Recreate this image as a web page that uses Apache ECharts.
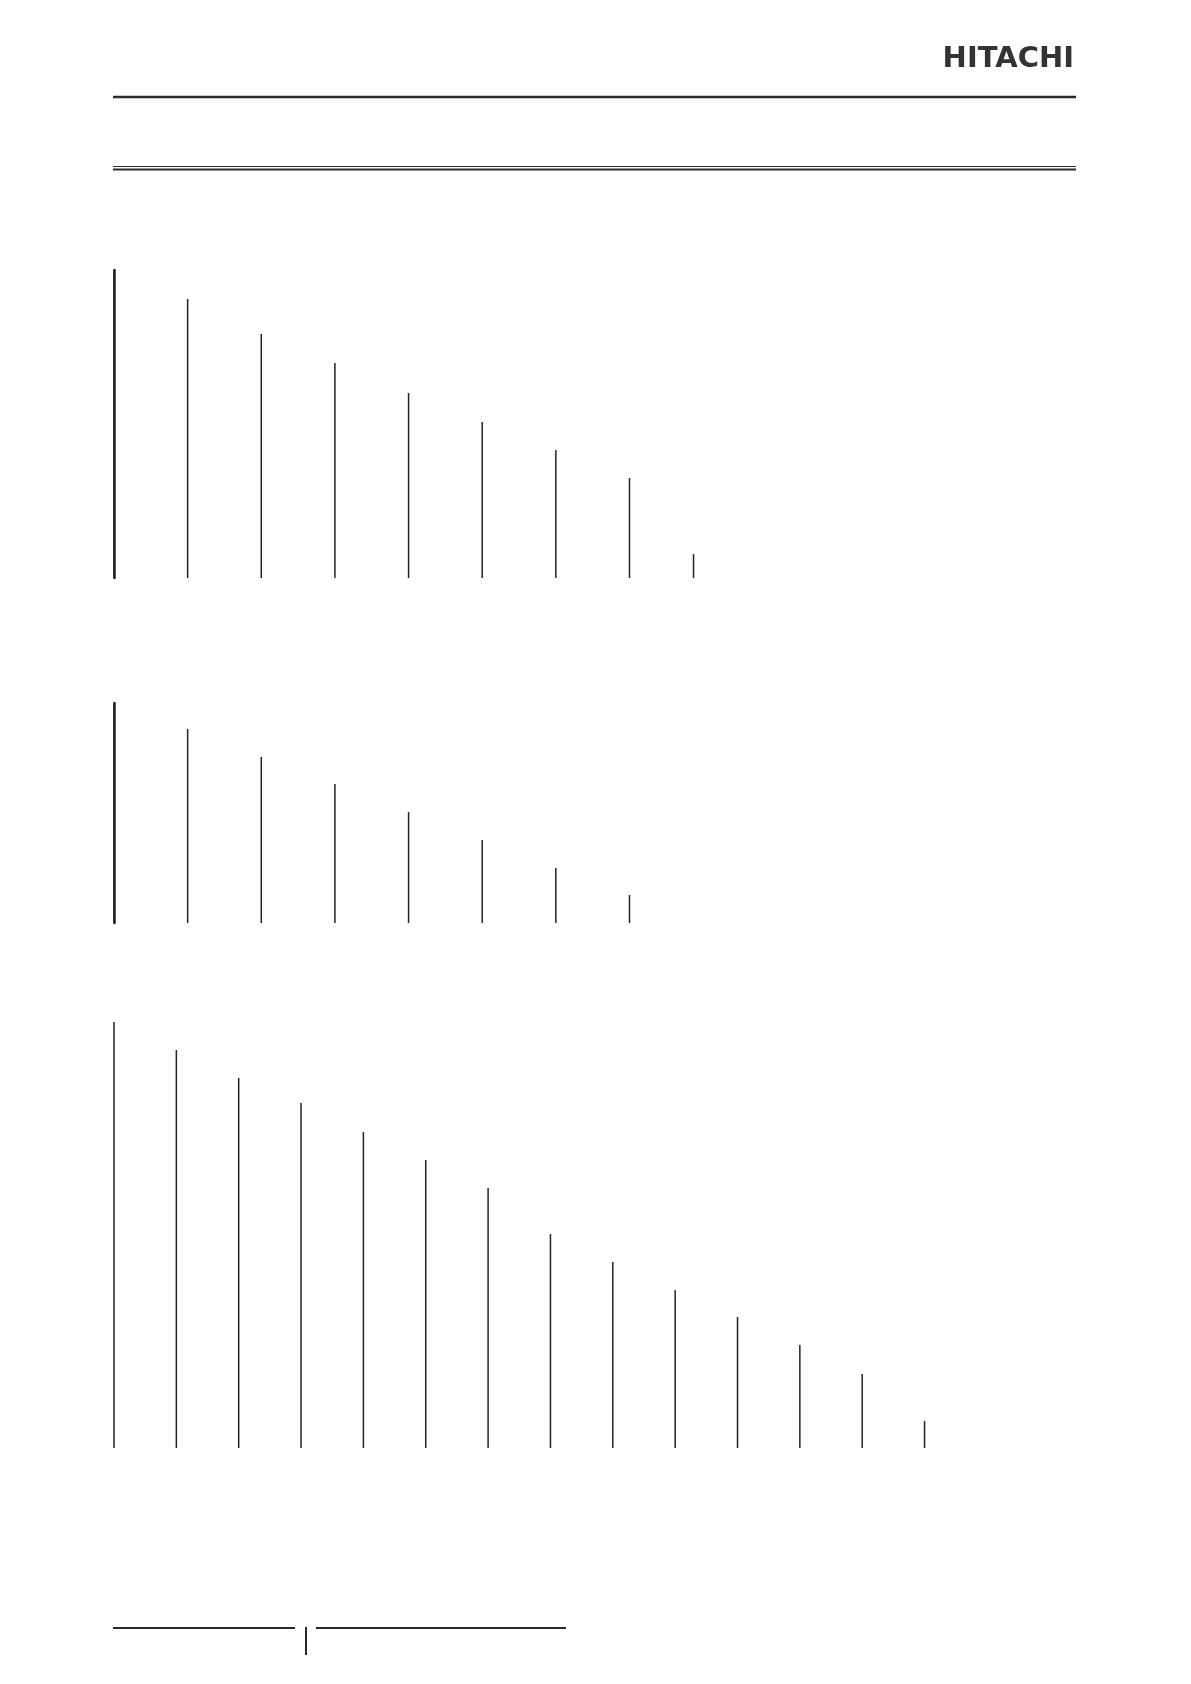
<!DOCTYPE html>
<html>
<head>
<meta charset="utf-8">
<script src="https://cdn.jsdelivr.net/npm/echarts@6/dist/echarts.min.js"></script>
<style>
  html, body { margin: 0; padding: 0; background: #ffffff; }
  #chart { width: 1191px; height: 1684px; }
</style>
</head>
<body>
<div id="chart"></div>
<script>
// ---- Data ----
// Slot position of each line along its group's axis
const group1Slots = [0, 1, 2, 3, 4, 5, 6, 7, 7.87];
const group1Values = [308, 279, 244, 215, 185, 156, 128, 100, 24];

const group2Slots = [0, 1, 2, 3, 4, 5, 6, 7];
const group2Values = [220, 194, 166, 139, 111, 83, 55, 28];

const group3Slots = [0, 1, 2, 3, 4, 5, 6, 7, 8, 9, 10, 11, 12, 13];
const group3Values = [426, 398, 370, 345, 316, 288, 260, 214, 186, 158, 131, 103, 74, 27];

const brandText = 'HITACHI';

// ---- Build ----
const lineColor = '#222222';
function pairs(xs, ys) { return xs.map((x, i) => [x, ys[i]]); }

const chart = echarts.init(document.getElementById('chart'), null, { renderer: 'canvas' });

const grids = [
  { left: 114, top: 270, width: 8 * 73.64, height: 308 },
  { left: 114, top: 703, width: 8 * 73.64, height: 220 },
  { left: 114, top: 1022, width: 13 * 62.35, height: 426 }
];

const xMax = [8, 8, 13];
const yMax = [Math.max(...group1Values), Math.max(...group2Values), Math.max(...group3Values)];
const showYLine = [true, true, false];

const xAxes = grids.map((g, i) => ({
  type: 'value', gridIndex: i, min: 0, max: xMax[i], show: false
}));
const yAxes = grids.map((g, i) => ({
  type: 'value', gridIndex: i, min: 0, max: yMax[i],
  axisLine: { show: showYLine[i], lineStyle: { color: lineColor, width: 2.5 } },
  axisTick: { show: false }, axisLabel: { show: false }, splitLine: { show: false }
}));

const datasets = [pairs(group1Slots, group1Values), pairs(group2Slots, group2Values), pairs(group3Slots, group3Values)];
const series = datasets.map((d, i) => ({
  type: 'bar', xAxisIndex: i, yAxisIndex: i, data: d,
  barWidth: 1.5, itemStyle: { color: lineColor }, silent: true, animation: false
}));

const dark = '#2a2a2a';
const graphic = [
  { type: 'text', right: 1191 - 1074, top: 45, style: { text: brandText, font: 'bold 29px "DejaVu Sans"', fill: '#333333' } },
  { type: 'line', shape: { x1: 113, y1: 97, x2: 1076, y2: 97 }, style: { stroke: dark, lineWidth: 2.5 } },
  { type: 'line', shape: { x1: 113, y1: 166.5, x2: 1076, y2: 166.5 }, style: { stroke: dark, lineWidth: 1 } },
  { type: 'line', shape: { x1: 113, y1: 169.5, x2: 1076, y2: 169.5 }, style: { stroke: dark, lineWidth: 2 } },
  { type: 'line', shape: { x1: 113, y1: 1628, x2: 295, y2: 1628 }, style: { stroke: dark, lineWidth: 2 } },
  { type: 'line', shape: { x1: 306, y1: 1627, x2: 306, y2: 1655 }, style: { stroke: dark, lineWidth: 2 } },
  { type: 'line', shape: { x1: 316, y1: 1628, x2: 566, y2: 1628 }, style: { stroke: dark, lineWidth: 2 } }
];

chart.setOption({
  backgroundColor: '#ffffff',
  animation: false,
  grid: grids,
  xAxis: xAxes,
  yAxis: yAxes,
  series: series,
  graphic: graphic
});
</script>
</body>
</html>
